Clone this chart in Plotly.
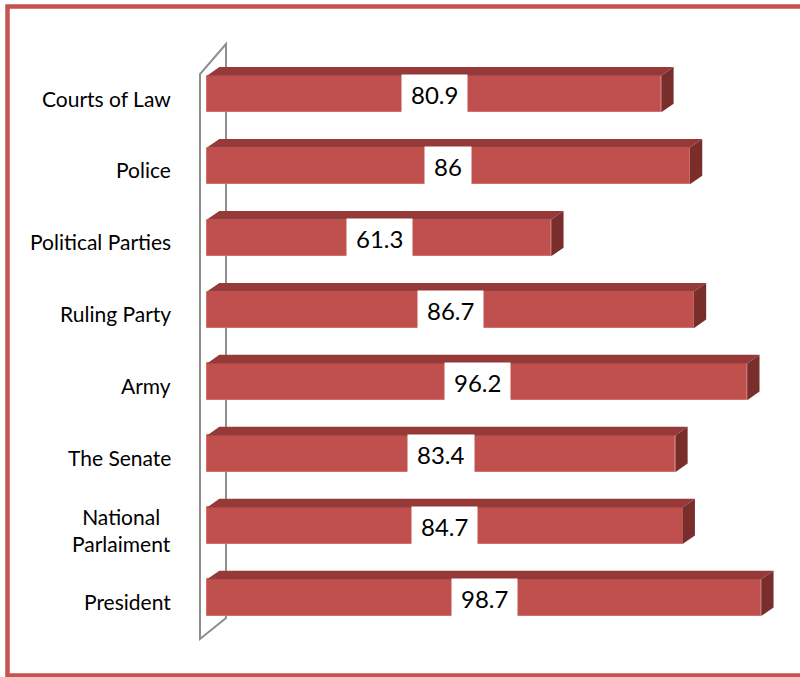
import plotly.graph_objects as go

# ---- data (bottom to top) ----
categories = ["President", "National<br>Parlaiment", "The Senate", "Army",
              "Ruling Party", "Political Parties", "Police", "Courts of Law"]
values = [98.7, 84.7, 83.4, 96.2, 86.7, 61.3, 86.0, 80.9]
value_labels = ["98.7", "84.7", "83.4", "96.2", "86.7", "61.3", "86", "80.9"]

W, H = 800, 677
FRONT = "#C0504D"
TOP = "#953A38"
SIDE = "#7A2E2C"

BAR_W = 0.51
DX = 2.2     # depth in x data units
DY = 0.12    # depth in y data units

# axis ranges chosen so x=0 sits at the wall
x_range = [-207 / 5.615, (W - 207) / 5.615]
y_range = [-(H - 597.7) / 71.96, 7 + 94 / 71.96]

fig = go.Figure()

ys = list(range(len(categories)))

# front faces
fig.add_trace(go.Bar(
    x=values, y=ys, orientation="h", width=BAR_W,
    marker=dict(color=FRONT, line=dict(color="#D2726F", width=1)),
    hoverinfo="skip", showlegend=False,
))

# top and side faces
top_x, top_y, side_x, side_y = [], [], [], []
for y, v in zip(ys, values):
    yt = y + BAR_W / 2
    yb = y - BAR_W / 2
    top_x += [0, v, v + DX, DX, 0, None]
    top_y += [yt, yt, yt + DY, yt + DY, yt, None]
    side_x += [v, v + DX, v + DX, v, v, None]
    side_y += [yt, yt + DY, yb + DY, yb, yt, None]

fig.add_trace(go.Scatter(x=top_x, y=top_y, fill="toself", fillcolor=TOP,
                         mode="lines", line=dict(width=0, color=TOP),
                         hoverinfo="skip", showlegend=False))
fig.add_trace(go.Scatter(x=side_x, y=side_y, fill="toself", fillcolor=SIDE,
                         mode="lines", line=dict(width=0, color=SIDE),
                         hoverinfo="skip", showlegend=False))

annotations = []
# value labels
for y, v, lab in zip(ys, values, value_labels):
    annotations.append(dict(
        x=v / 2, y=y, xref="x", yref="y", text=lab, showarrow=False,
        font=dict(family="Lato", size=24, color="black"),
        bgcolor="white", borderpad=9, height=20,
        xanchor="center", yanchor="middle",
    ))
# category labels
for y, c in zip(ys, categories):
    annotations.append(dict(
        x=-6.1, y=y, xref="x", yref="y", text=c, showarrow=False,
        font=dict(family="Lato", size=21, color="black"),
        xanchor="right", yanchor="middle", align="center", yshift=-4,
    ))


def px(x):
    return x / W


def py(y):
    return 1 - y / H


shapes = [
    # wall outline
    dict(type="path", xref="paper", yref="paper",
         path=(f"M {px(200)} {py(639)} L {px(200)} {py(74)} L {px(226)} {py(44)} "
               f"L {px(226)} {py(618)} Z"),
         line=dict(color="#8E8E8E", width=2), layer="below"),
    # outer frame
    dict(type="rect", xref="paper", yref="paper",
         x0=px(7.5), x1=px(830), y0=py(675.5), y1=py(6.5),
         line=dict(color="#C55451", width=4.5)),
]

fig.update_layout(
    width=W, height=H,
    margin=dict(l=0, r=0, t=0, b=0),
    paper_bgcolor="white", plot_bgcolor="white",
    xaxis=dict(range=x_range, visible=False, fixedrange=True),
    yaxis=dict(range=y_range, visible=False, fixedrange=True),
    annotations=annotations, shapes=shapes,
    bargap=0,
)

fig.write_html("out.html", config={"displayModeBar": False},
               post_script="document.body.style.margin='0';document.body.style.padding='0';")
